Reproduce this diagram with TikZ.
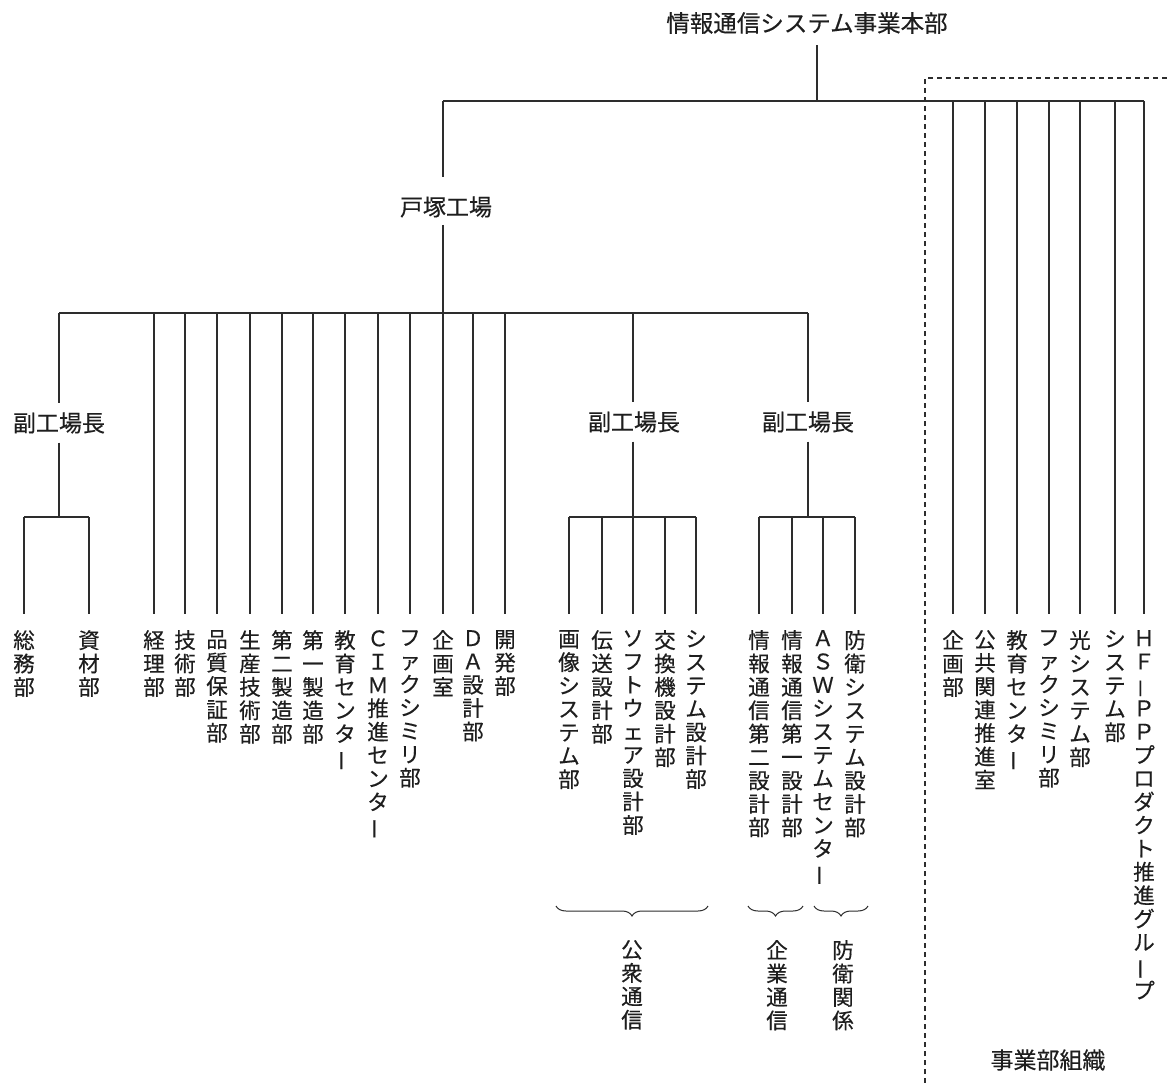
\documentclass[tikz,border=0pt]{standalone}
\usepackage{fontspec}
\setmainfont{Noto Sans CJK JP}[FakeBold=0.35]
\usepackage{graphicx}
\usetikzlibrary{decorations.pathreplacing}
\definecolor{ink}{RGB}{30,30,30}
\definecolor{lnc}{RGB}{45,45,45}
\newcommand\vb{\rotatebox[origin=c]{90}{ー}}
\newcommand\hy{\rotatebox[origin=c]{90}{－}}
\begin{document}
\begin{tikzpicture}[x=1pt,y=-1pt,
  ln/.style={draw=lnc,line width=1.1pt},
  dashbox/.style={draw=lnc,line width=1.1pt,dash pattern=on 5pt off 4pt},
  brc/.style={draw=lnc,line width=1pt,decorate,decoration={brace,amplitude=10pt}},
  leaf/.style={anchor=north,inner sep=0pt,align=center,text=ink,font=\fontsize{21.5}{23.4}\selectfont},
  hlab/.style={inner xsep=2pt,inner ysep=9pt,text=ink,font=\fontsize{23}{23}\selectfont},
  ttl/.style={inner xsep=2pt,inner ysep=11pt,text=ink,font=\fontsize{23.5}{23.5}\selectfont}]
\fill[white] (0,0) rectangle (1169,1083);
\useasboundingbox (0,0) rectangle (1169,1083);

% heads
\node[ttl] (T) at (807,23) {情報通信システム事業本部};
\node[hlab] (tz) at (446,207) {戸塚工場};
\node[hlab] (V1) at (59,423) {副工場長};
\node[hlab] (V2) at (634,422) {副工場長};
\node[hlab] (V3) at (808,422) {副工場長};
\node[hlab] (JB) at (1048,1060) {事業部組織};

% junction coordinates
\coordinate (hq) at (817,101);
\coordinate (h1) at (443,101);
\coordinate (hR) at (1144,101);
\coordinate (tzA) at (443,177);
\coordinate (tzB) at (443,225);
\coordinate (b1) at (59,313);
\coordinate (b2) at (808,313);
\coordinate (s1) at (24,517);
\coordinate (s2) at (569,517);
\coordinate (s3) at (759,517);

% leaves
\node[leaf] (L1) at (24,630) {総\\務\\部};
\node[leaf] (L2) at (89,630) {資\\材\\部};
\node[leaf] (L3) at (154,630) {経\\理\\部};
\node[leaf] (L4) at (185,630) {技\\術\\部};
\node[leaf] (L5) at (217,630) {品\\質\\保\\証\\部};
\node[leaf] (L6) at (250,630) {生\\産\\技\\術\\部};
\node[leaf] (L7) at (282,630) {第\\二\\製\\造\\部};
\node[leaf] (L8) at (313,630) {第\\一\\製\\造\\部};
\node[leaf] (L9) at (345,630) {教\\育\\セ\\ン\\タ\\\vb};
\node[leaf] (L10) at (378,630) {Ｃ\\Ｉ\\Ｍ\\推\\進\\セ\\ン\\タ\\\vb};
\node[leaf] (L11) at (410,630) {フ\\ァ\\ク\\シ\\ミ\\リ\\部};
\node[leaf] (L12) at (443,630) {企\\画\\室};
\node[leaf] (L13) at (473,630) {Ｄ\\Ａ\\設\\計\\部};
\node[leaf] (L14) at (505,630) {開\\発\\部};

\node[leaf] (M1) at (569,630) {画\\像\\シ\\ス\\テ\\ム\\部};
\node[leaf] (M2) at (602,630) {伝\\送\\設\\計\\部};
\node[leaf] (M3) at (633,630) {ソ\\フ\\ト\\ウ\\ェ\\ア\\設\\計\\部};
\node[leaf] (M4) at (665,630) {交\\換\\機\\設\\計\\部};
\node[leaf] (M5) at (696,630) {シ\\ス\\テ\\ム\\設\\計\\部};
\node[leaf] (M6) at (759,630) {情\\報\\通\\信\\第\\二\\設\\計\\部};
\node[leaf] (M7) at (792,630) {情\\報\\通\\信\\第\\一\\設\\計\\部};
\node[leaf] (M8) at (823,630) {Ａ\\Ｓ\\Ｗ\\シ\\ス\\テ\\ム\\セ\\ン\\タ\\\vb};
\node[leaf] (M9) at (855,630) {防\\衛\\シ\\ス\\テ\\ム\\設\\計\\部};

\node[leaf] (R1) at (953,630) {企\\画\\部};
\node[leaf] (R2) at (985,630) {公\\共\\関\\連\\推\\進\\室};
\node[leaf] (R3) at (1017,630) {教\\育\\セ\\ン\\タ\\\vb};
\node[leaf] (R4) at (1049,630) {フ\\ァ\\ク\\シ\\ミ\\リ\\部};
\node[leaf] (R5) at (1080,630) {光\\シ\\ス\\テ\\ム\\部};
\node[leaf] (R6) at (1115,630) {シ\\ス\\テ\\ム\\部};
\node[leaf] (R7) at (1144,630) {Ｈ\\Ｆ\\\hy\\Ｐ\\Ｐ\\プ\\ロ\\ダ\\ク\\ト\\推\\進\\グ\\ル\\\vb\\プ};

% group labels
\node[leaf] (G1) at (632,940) {公\\衆\\通\\信};
\node[leaf] (G2) at (777,940) {企\\業\\通\\信};
\node[leaf] (G3) at (843,940) {防\\衛\\関\\係};

% connectors: top level
\draw[ln] (T.south -| hq) -- (hq);
\draw[ln] (h1) -- (hR);
\draw[ln] (h1) -- (tzA);
\draw[ln,shorten >=16pt] (tzB) -- (L12.north);
\foreach \n in {R1,R2,R3,R4,R5,R6,R7}
  \draw[ln,shorten >=16pt] (\n.north |- h1) -- (\n.north);

% factory level
\draw[ln] (b1) -- (b2);
\foreach \n in {L3,L4,L5,L6,L7,L8,L9,L10,L11,L13,L14}
  \draw[ln,shorten >=16pt] (\n.north |- b1) -- (\n.north);
\draw[ln] (V1.north |- b1) -- (V1.north);
\draw[ln] (M3.north |- b1) -- (M3.north |- V2.north);
\draw[ln] (V3.north |- b1) -- (V3.north);

% deputy groups
\draw[ln] (V1.south) -- (V1.south |- s1);
\draw[ln] (L1.north |- s1) -- (L2.north |- s1);
\foreach \n in {L1,L2}
  \draw[ln,shorten >=16pt] (\n.north |- s1) -- (\n.north);

\draw[ln] (M3.north |- V2.south) -- (M3.north |- s2);
\draw[ln] (M1.north |- s2) -- (M5.north |- s2);
\foreach \n in {M1,M2,M3,M4,M5}
  \draw[ln,shorten >=16pt] (\n.north |- s2) -- (\n.north);

\draw[ln] (V3.south) -- (V3.south |- s3);
\draw[ln] (M6.north |- s3) -- (M9.north |- s3);
\foreach \n in {M6,M7,M8,M9}
  \draw[ln,shorten >=16pt] (\n.north |- s3) -- (\n.north);

% braces
\draw[brc] (708,906) -- (556,906);
\draw[brc] (803,906) -- (748,906);
\draw[brc] (868,906) -- (814,906);

% division box
\draw[dashbox] (925,1083) -- (925,78) -- (1169,78);
\end{tikzpicture}
\end{document}
